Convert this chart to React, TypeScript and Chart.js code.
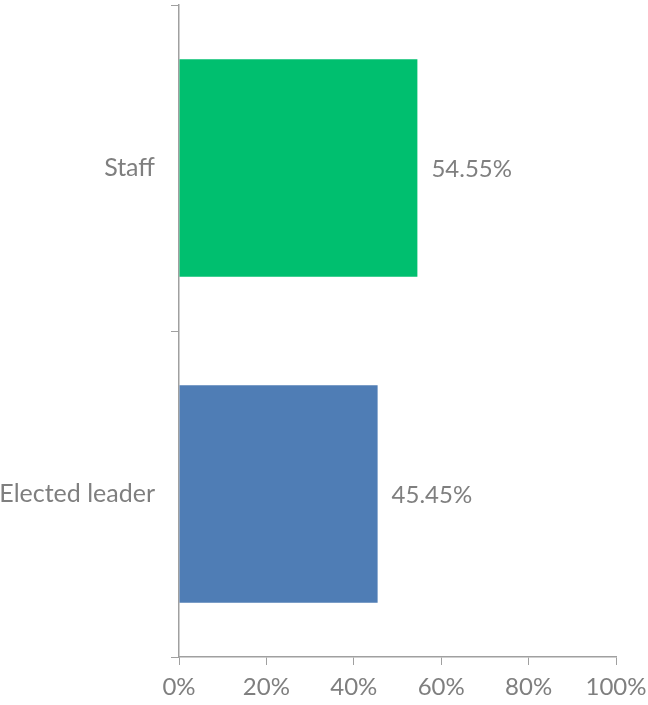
import React, { useEffect, useRef } from "react";
import { Chart, registerables } from "chart.js";

Chart.register(...registerables);

const categories = ["Staff", "Elected leader"];
const values = [54.55, 45.45];
const barColors = ["#00BF6F", "#4F7DB5"];
const xTicks = [0, 20, 40, 60, 80, 100];

const FONT = "Lato, 'Open Sans', sans-serif";
const TEXT = "#7f7f7f";
const AXIS = "#a0a0a0";

const valueLabels = {
  id: "valueLabels",
  afterDatasetsDraw(chart: any) {
    const ctx = chart.ctx;
    const meta = chart.getDatasetMeta(0);
    ctx.save();
    ctx.font = `24px ${FONT}`;
    ctx.fillStyle = TEXT;
    ctx.textAlign = "left";
    ctx.textBaseline = "middle";
    meta.data.forEach((bar: any, i: number) => {
      ctx.fillText(values[i].toFixed(2) + "%", bar.x + 14, bar.y + 1);
    });
    ctx.restore();
  },
};

export default function App() {
  const ref = useRef<HTMLCanvasElement>(null);
  useEffect(() => {
    if (!ref.current) return;
    const chart = new Chart(ref.current, {
      type: "bar",
      data: {
        labels: categories,
        datasets: [
          {
            data: values,
            backgroundColor: barColors,
            categoryPercentage: 1,
            barPercentage: 0.667,
          },
        ],
      },
      options: {
        indexAxis: "y",
        animation: false,
        responsive: false,
        devicePixelRatio: 1,
        layout: { padding: { top: 5, right: 32, bottom: 0, left: 0 } },
        plugins: { legend: { display: false }, tooltip: { enabled: false } },
        scales: {
          x: {
            min: 0,
            max: 100,
            afterBuildTicks: (scale: any) => {
              scale.ticks = xTicks.map((v) => ({ value: v }));
            },
            afterFit: (scale: any) => {
              scale.height = 48;
              scale.paddingLeft = 0;
              scale.paddingRight = 0;
            },
            ticks: {
              callback: (v: any) => v + "%",
              color: TEXT,
              font: { family: FONT, size: 24 },
              padding: 8,
              maxRotation: 0,
            },
            grid: {
              drawOnChartArea: false,
              drawTicks: true,
              tickLength: 8,
              color: AXIS,
            },
            border: { display: true, color: AXIS, width: 1.5 },
          },
          y: {
            afterFit: (scale: any) => {
              scale.width = 179;
              scale.paddingTop = 0;
              scale.paddingBottom = 0;
            },
            ticks: {
              color: TEXT,
              font: { family: FONT, size: 25 },
              padding: 16,
            },
            grid: {
              offset: true,
              drawOnChartArea: false,
              drawTicks: true,
              tickLength: 8,
              color: AXIS,
            },
            border: { display: true, color: AXIS, width: 1.5 },
          },
        },
      },
      plugins: [valueLabels],
    });
    return () => chart.destroy();
  }, []);
  return (
    <div style={{ position: "fixed", left: 0, top: 0, width: 648, height: 705, background: "#fff" }}>
      <canvas ref={ref} width={648} height={705} style={{ display: "block" }} />
    </div>
  );
}
